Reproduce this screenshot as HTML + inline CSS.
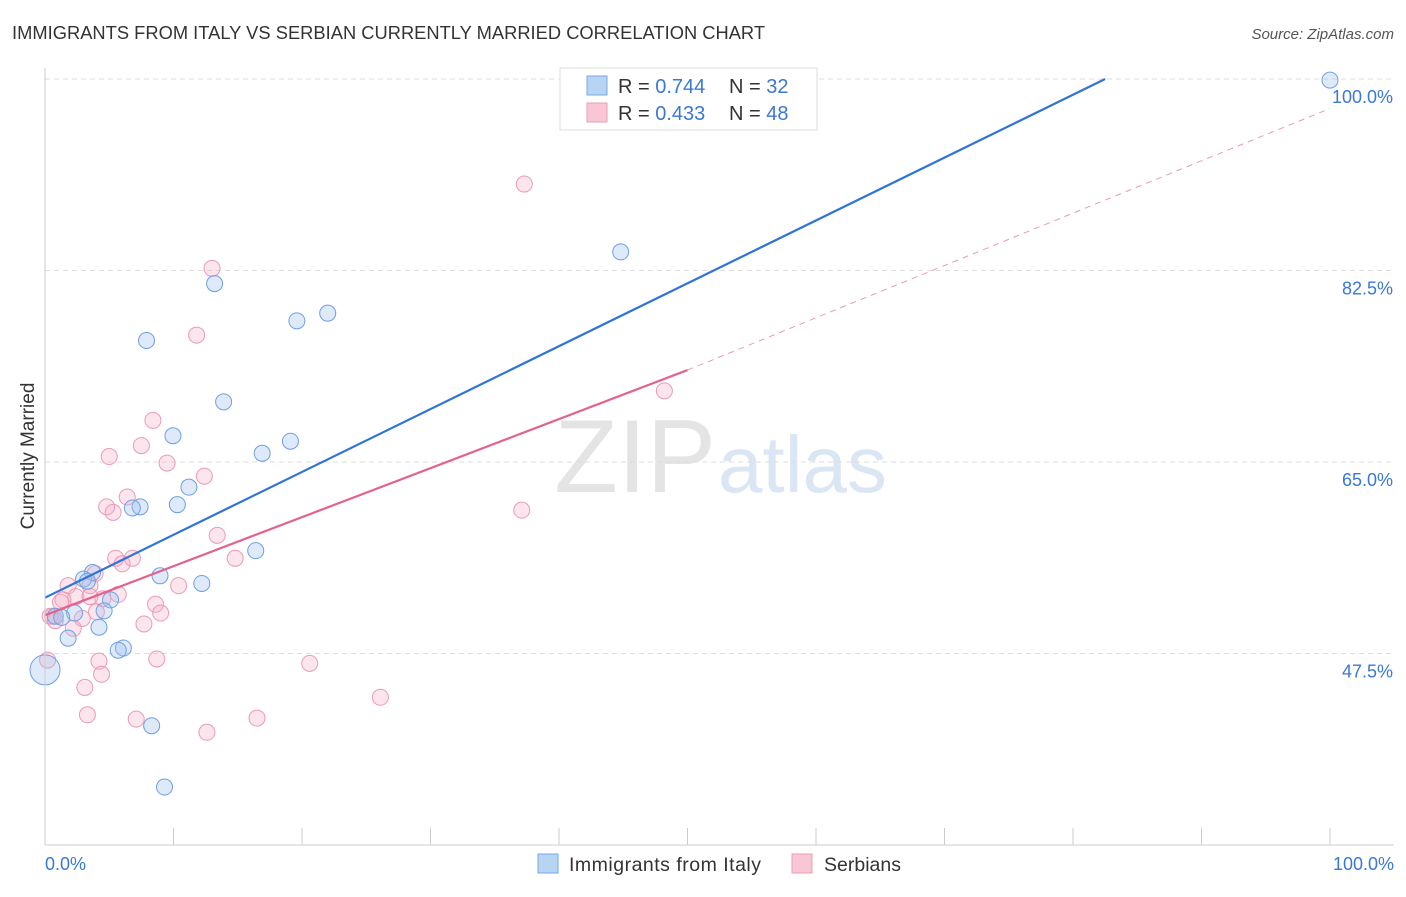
<!DOCTYPE html>
<html><head><meta charset="utf-8"><style>
body{margin:0;background:#fff;font-family:"Liberation Sans",sans-serif;}
svg text{font-family:"Liberation Sans",sans-serif;}
</style></head><body>
<svg id="c" width="1406" height="892" xmlns="http://www.w3.org/2000/svg">
<text x="12" y="39" font-size="18.3" fill="#333" textLength="753">IMMIGRANTS FROM ITALY VS SERBIAN CURRENTLY MARRIED CORRELATION CHART</text>
<text x="1394" y="39" font-size="15" fill="#555" text-anchor="end" font-style="italic">Source: ZipAtlas.com</text>
<text x="34" y="456" font-size="19" fill="#333" text-anchor="middle" transform="rotate(-90 34 456)">Currently Married</text>
<text x="716" y="492" font-size="104" fill="#e4e4e4" text-anchor="end" font-family="Liberation Serif">ZIP</text>
<text x="718" y="492" font-size="80" fill="#dbe6f5">atlas</text>
<g id="grid"></g><g id="pts"></g><g id="lines"></g>
<line x1="45" y1="845" x2="1394" y2="845" stroke="#ccc"/>
<line x1="45" y1="68" x2="45" y2="845" stroke="#ccc"/>
<text x="45" y="870" font-size="18" fill="#3a78d4">0.0%</text>
<text x="1394" y="870" font-size="18" fill="#3a78d4" text-anchor="end">100.0%</text>
<g>
<rect x="560" y="68" width="257" height="62" fill="#fff" stroke="#ddd"/>
<rect x="587" y="76" width="20" height="19" fill="#b8d4f5" stroke="#7aa7e4"/>
<rect x="587" y="103" width="20" height="19" fill="#f9c6d6" stroke="#ec9db6"/>
<text x="618" y="93" font-size="20" fill="#333">R = <tspan fill="#3a78d4">0.744</tspan></text>
<text x="729" y="93" font-size="20" fill="#333">N = <tspan fill="#3a78d4"> 32</tspan></text>
<text x="618" y="120" font-size="20" fill="#333">R = <tspan fill="#3a78d4">0.433</tspan></text>
<text x="729" y="120" font-size="20" fill="#333">N = <tspan fill="#3a78d4">48</tspan></text>
</g>
<g>
<rect x="538" y="854" width="20" height="19" fill="#b8d4f5" stroke="#7aa7e4"/>
<text x="569" y="871" font-size="19.5" fill="#333" textLength="192">Immigrants from Italy</text>
<rect x="792" y="854" width="20" height="19" fill="#f9c6d6" stroke="#ec9db6"/>
<text x="824" y="871" font-size="19.5" fill="#333">Serbians</text>
</g>
</svg>
<script>
const yTicks=[100,82.5,65,47.5];
const xTicks=[0,10,20,30,40,50,60,70,80,90,100];
const blueX=[100,44.8,13.2,19.6,22.0,7.9,13.9,9.96,19.1,16.9,11.2,10.3,7.4,6.8,16.4,8.95,12.2,3.7,3.0,3.3,5.1,4.6,2.3,0.8,1.3,1.8,4.2,6.1,5.7,8.3,9.3,0];
const blueY=[99.9,84.2,81.3,77.9,78.6,76.1,70.5,67.4,66.9,65.8,62.7,61.1,60.9,60.8,56.9,54.6,53.9,54.9,54.3,54.1,52.4,51.4,51.2,50.9,50.8,48.9,49.9,48.0,47.8,40.9,35.3,46.0];
const pinkX=[37.3,13.0,11.8,48.2,8.4,7.5,9.5,5.0,12.4,6.4,4.8,5.3,37.1,13.4,5.5,6.8,6.0,14.8,3.9,3.5,1.8,10.4,5.7,2.4,1.2,8.6,9.0,4.0,2.9,0.6,7.7,2.2,4.2,8.7,20.6,4.4,3.1,26.1,3.3,7.1,16.5,12.6,0.2,0.4,1.4,4.5,3.5,0.8];
const pinkY=[90.4,82.7,76.6,71.5,68.8,66.5,64.9,65.5,63.7,61.8,60.9,60.4,60.6,58.3,56.2,56.2,55.7,56.2,54.8,53.7,53.7,53.7,52.9,52.7,52.2,52.0,51.2,51.3,50.7,50.9,50.2,49.8,46.8,47.0,46.6,45.6,44.4,43.5,41.9,41.5,41.6,40.3,46.9,50.9,52.4,52.5,52.7,50.5];
const blueLine=[0,52.6,82.5,100];
const pinkLine=[0,51.0,50,73.4,100,97.3];
const ns="http://www.w3.org/2000/svg";
const sx=v=>45+v*12.85, sy=v=>79+(100-v)*10.943;
function mk(t,a,p){const e=document.createElementNS(ns,t);for(const k in a)e.setAttribute(k,a[k]);p.appendChild(e);return e;}
const grid=document.getElementById('grid');
yTicks.forEach(v=>{
 const l=mk('line',{x1:45,x2:1394,y1:sy(v),y2:sy(v),stroke:'#ddd','stroke-dasharray':'5,4'},grid);
 
 
 const t=mk('text',{x:1393,y:sy(v)+24,'font-size':18,fill:'#3a78d4','text-anchor':'end'},grid);
 t.textContent=v.toFixed(1)+'%';
 
 
});
xTicks.forEach(v=>{
 const l=mk('line',{x1:sx(v),x2:sx(v),y1:828,y2:845,stroke:'#ccc'},grid);
 
 
});
const pts=document.getElementById('pts');
pinkX.forEach((x,i)=>{
 const c=mk('circle',{cx:sx(x),cy:sy(pinkY[i]),r:8,fill:'rgba(245,170,195,0.3)',stroke:'#eb9ab5','stroke-width':1},pts);
 
 
});
blueX.forEach((x,i)=>{
 const c=mk('circle',{cx:sx(x),cy:sy(blueY[i]),r:i==blueX.length-1?15:8,fill:'rgba(160,195,240,0.35)',stroke:'#6e9fe2','stroke-width':1},pts);
 
 
});
const lines=document.getElementById('lines');
let b=mk('line',{x1:sx(blueLine[0]),y1:sy(blueLine[1]),x2:sx(blueLine[2]),y2:sy(blueLine[3]),stroke:'#2f74d6','stroke-width':2.2},lines);


let p=mk('line',{x1:sx(pinkLine[0]),y1:sy(pinkLine[1]),x2:sx(pinkLine[2]),y2:sy(pinkLine[3]),stroke:'#e2648e','stroke-width':2.2},lines);


let d=mk('line',{x1:sx(pinkLine[2]),y1:sy(pinkLine[3]),x2:sx(pinkLine[4]),y2:sy(pinkLine[5]),stroke:'#e99ab4','stroke-width':1,'stroke-dasharray':'6,5'},lines);


</script>
</body></html>
